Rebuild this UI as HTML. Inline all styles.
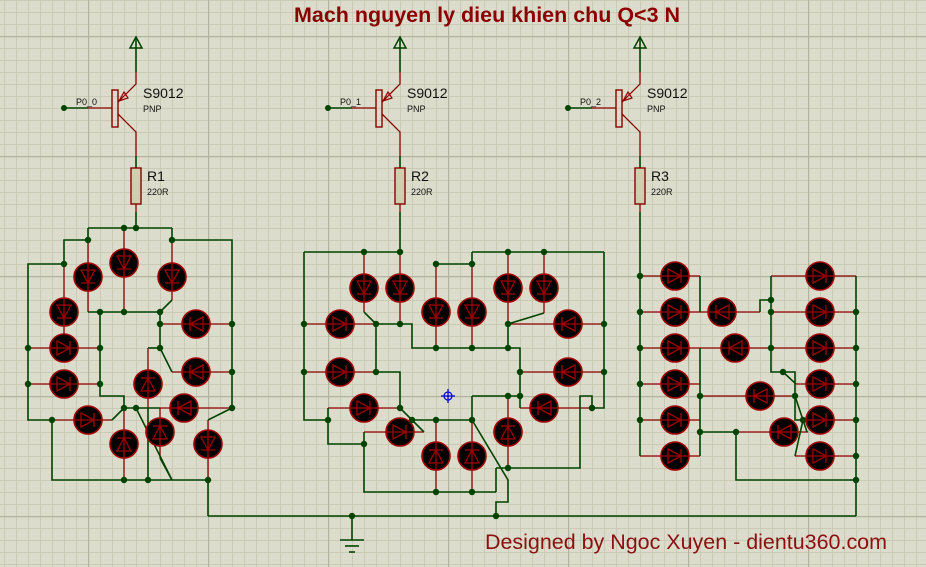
<!DOCTYPE html>
<html><head><meta charset="utf-8"><style>
html,body{margin:0;padding:0;background:#dcdccc;}
svg{display:block;}
text{font-family:"Liberation Sans",sans-serif;}
</style></head><body>
<svg id="s" width="926" height="567" viewBox="0 0 926 567" xmlns="http://www.w3.org/2000/svg">
<defs>
<pattern id="minor" x="4" y="0" width="12" height="12" patternUnits="userSpaceOnUse">
<path d="M0 0H12M0 0V12" stroke="#c3c3ae" stroke-width="1.4" fill="none"/>
</pattern>
<pattern id="major" x="88" y="36" width="120" height="120" patternUnits="userSpaceOnUse">
<path d="M0 0H120M0 0V120" stroke="#b2b2a0" stroke-width="2.4" fill="none"/>
</pattern>
<g id="led">
<circle r="14" fill="#000" stroke="#a00000" stroke-width="1.6"/>
<path d="M-7 -7L-7 7L6 0Z M6 -7V7 M-14 0H14" stroke="#a00000" stroke-width="1.3" fill="none"/>
</g>
</defs>
<rect width="926" height="567" fill="#dcdccc"/>
<rect width="926" height="567" fill="url(#minor)"/>
<rect width="926" height="567" fill="url(#major)"/>
<g id="red" stroke="#8b0000" stroke-width="1.3" fill="none"></g>
<g id="grn" stroke="#004400" stroke-width="1.6" fill="none"></g>
<g id="leds"></g>
<g id="dots" fill="#004400"></g>
<g id="trs"></g>
<text x="487" y="22" text-anchor="middle" font-size="21" font-weight="bold" fill="#8b0000" textLength="386" lengthAdjust="spacingAndGlyphs">Mach nguyen ly dieu khien chu Q&lt;3 N</text>
<text x="485" y="549" font-size="21.5" fill="#8b1010" textLength="402" lengthAdjust="spacingAndGlyphs">Designed by Ngoc Xuyen - dientu360.com</text>
<g stroke="#0000dd" stroke-width="1.2" fill="none"><circle cx="448" cy="396" r="4"/><path d="M441 396H455M448 389V403"/></g>
<g font-size="14" fill="#111">
<text x="143" y="98">S9012</text><text x="407" y="98">S9012</text><text x="647" y="98">S9012</text>
<text x="147" y="181">R1</text><text x="411" y="181">R2</text><text x="651" y="181">R3</text>
</g>
<g font-size="9" fill="#111">
<text x="143" y="112">PNP</text><text x="407" y="112">PNP</text><text x="647" y="112">PNP</text>
<text x="147" y="195">220R</text><text x="411" y="195">220R</text><text x="651" y="195">220R</text>
<text x="76" y="105">P0_0</text><text x="340" y="105">P0_1</text><text x="580" y="105">P0_2</text>
</g>
</svg>
<script>
var NS="http://www.w3.org/2000/svg";
function el(p,t,a){var e=document.createElementNS(NS,t);for(var k in a)e.setAttribute(k,a[k]);document.getElementById(p).appendChild(e);return e;}
function pl(p,pts){var d="M"+pts[0]+" "+pts[1];for(var i=2;i<pts.length;i+=2)d+="L"+pts[i]+" "+pts[i+1];el(p,"path",{d:d});}
var rot={r:0,d:90,l:180,u:270};
function led(x,y,o,a,b){pl("red",a.concat(b));el("leds","use",{href:"#led",transform:"translate("+x+" "+y+") rotate("+rot[o]+")"});}
led(88,277,"d",[88,240],[88,312]);
led(124,263,"d",[124,228],[124,312]);
led(172,277,"d",[172,240],[172,300]);
led(64,312,"d",[64,264],[64,334]);
led(64,348,"r",[28,348],[100,348]);
led(64,384,"r",[28,384],[100,384]);
led(88,420,"r",[52,420],[112,420]);
led(124,444,"u",[124,408],[124,480]);
led(148,384,"u",[148,348],[148,408]);
led(160,432,"u",[160,408],[160,458]);
led(196,324,"l",[160,324],[232,324]);
led(196,372,"l",[172,372],[232,372]);
led(184,408,"l",[160,408],[232,408]);
led(208,444,"d",[208,420],[208,480]);
[[136,212,136,228],[88,228,172,228],[88,228,88,240],[172,228,172,240],[64,264,64,240,88,240],[172,240,232,240,232,408],[64,264,28,264,28,420,52,420],[52,420,52,480,208,480],[88,312,160,312],[172,300,160,312],[160,312,160,348],[100,312,100,396,124,396,124,408],[124,408,160,408],[136,408,172,480],[148,408,148,480],[148,348,160,348],[172,372,160,348],[112,420,124,408],[160,458,172,480],[208,420,232,408],[208,480,208,516],
[400,212,400,252],[304,252,400,252],[472,252,604,252],[304,252,304,420,328,420],[328,408,328,444,364,444],[364,432,364,492,496,492],[436,264,472,264],[472,264,472,252],[604,252,604,408,592,408],[376,324,376,372],[376,324,412,324,412,348,520,348,520,408],[376,372,400,372,400,408],[508,324,508,348],[472,396,520,396],[472,396,472,420],[412,420,472,420],[472,420,508,480,508,502,496,502,496,516],[496,468,580,468,580,396,592,396,592,408],[496,468,496,492],[364,312,376,324],[544,313,508,324],[400,408,424,432],
[640,212,640,456],[700,276,700,312],[700,348,700,456],[771,276,771,372,795,372,795,420,803,420],[760,312,760,300,771,300],[783,372,796,384],[795,396,807,432],[803,420,795,456],[700,432,736,432],[736,432,736,480,856,480],[856,276,856,516],[208,516,856,516],[352,516,352,540],[340,540,364,540],[345,546,359,546],[349,552,355,552]
].forEach(function(p){pl("grn",p);});
led(364,288,"d",[364,252],[364,312]);
led(400,288,"d",[400,252],[400,324]);
led(436,312,"d",[436,264],[436,348]);
led(472,312,"d",[472,264],[472,348]);
led(508,288,"d",[508,252],[508,324]);
led(544,288,"d",[544,252],[544,313]);
led(340,324,"r",[304,324],[376,324]);
led(340,372,"r",[304,372],[376,372]);
led(364,408,"r",[328,408],[400,408]);
led(400,432,"r",[364,432],[424,432]);
led(436,456,"u",[436,420],[436,492]);
led(472,456,"u",[472,420],[472,492]);
led(508,432,"u",[508,396],[508,468]);
led(568,324,"l",[508,324],[604,324]);
led(568,372,"l",[520,372],[604,372]);
led(544,408,"l",[520,408],[592,408]);
[276,312,348,384,420,456].forEach(function(y){led(675,y,"r",[640,y],[700,y]);});
led(722,312,"l",[700,312],[760,312]);
led(735,348,"l",[700,348],[771,348]);
led(760,396,"l",[700,396],[795,396]);
led(784,432,"l",[736,432],[808,432]);
led(820,276,"r",[771,276],[856,276]);
led(820,312,"r",[771,312],[856,312]);
led(820,348,"r",[771,348],[856,348]);
led(820,384,"r",[796,384],[856,384]);
led(820,420,"r",[803,420],[856,420]);
led(820,456,"r",[795,456],[856,456]);
[[88,240],[124,228],[136,228],[172,240],[64,264],[100,312],[124,312],[160,312],[160,324],[28,348],[100,348],[28,384],[100,384],[160,348],[232,324],[232,372],[232,408],[124,408],[136,408],[52,420],[124,480],[148,480],[208,480],
[364,252],[400,252],[508,252],[544,252],[304,324],[304,372],[376,324],[400,324],[436,264],[472,264],[436,348],[472,348],[508,348],[508,324],[604,324],[604,372],[376,372],[520,372],[520,396],[592,408],[400,408],[328,420],[364,444],[412,420],[436,420],[472,420],[508,396],[436,492],[472,492],[508,468],
[640,276],[640,312],[640,348],[640,384],[640,420],[771,300],[771,312],[771,348],[783,372],[795,396],[803,420],[700,396],[700,432],[736,432],[856,312],[856,348],[856,384],[856,420],[856,456],[856,480],[352,516],[496,516]
].forEach(function(p){el("dots","circle",{cx:p[0],cy:p[1],r:3.2});});
[136,400,640].forEach(function(x){
 pl("grn",[x-72,108,x-48,108]);pl("red",[x-48,108,x-24,108]);
 el("dots","circle",{cx:x-72,cy:108,r:3});
 el("trs","rect",{x:x-24,y:90,width:6,height:37,fill:"none",stroke:"#8b0000","stroke-width":1.4});
 pl("red",[x-18,102,x,84,x,72]);pl("red",[x-18,114,x,132,x,156]);
 el("trs","path",{d:"M"+(x-17)+" 101L"+(x-12)+" 92L"+(x-8)+" 98Z",fill:"none",stroke:"#8b0000","stroke-width":1.2});
 pl("grn",[x,72,x,38]);
 el("trs","path",{d:"M"+(x-6)+" 48L"+x+" 37L"+(x+6)+" 48Z",fill:"none",stroke:"#004400","stroke-width":1.5});
 pl("grn",[x,156,x,168]);
 el("trs","rect",{x:x-5,y:168,width:10,height:36,fill:"#cfcfb0",stroke:"#8b0000","stroke-width":1.4});
 pl("red",[x,204,x,212]);
});
</script>
</body></html>
